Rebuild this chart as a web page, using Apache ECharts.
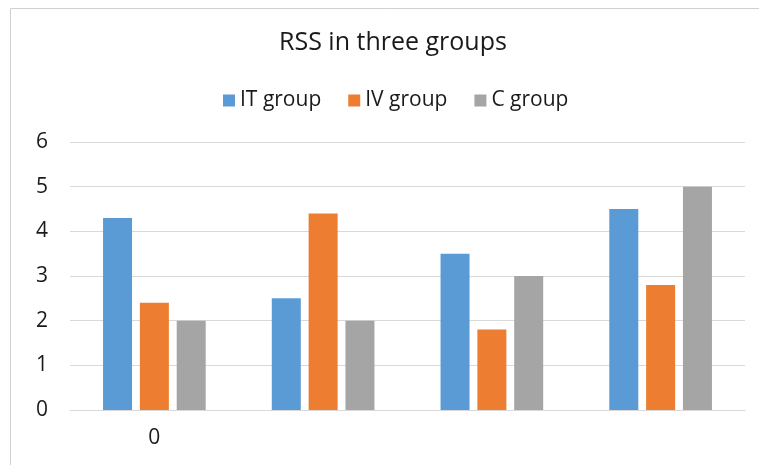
<!DOCTYPE html>
<html><head><meta charset="utf-8">
<script src="https://cdn.jsdelivr.net/npm/echarts@6/dist/echarts.min.js"></script>
<style>html,body{margin:0;padding:0;background:#fff}#c{width:759px;height:465px}</style>
</head><body><div id="c"></div>
<script>
const categories = ['0', '', '', ''];
const itGroup = [4.3, 2.5, 3.5, 4.5];
const ivGroup = [2.4, 4.4, 1.8, 2.8];
const cGroup = [2.0, 2.0, 3.0, 5.0];
const yTicks = {min: 0, max: 6, interval: 1};

const font = '"Open Sans", "Liberation Sans", sans-serif';
const chart = echarts.init(document.getElementById('c'));
chart.setOption({
  animation: false,
  backgroundColor: '#fff',
  graphic: [{type: 'rect', shape: {x: 10.5, y: 8.5, width: 800, height: 500}, style: {fill: 'none', stroke: '#d0d0d0', lineWidth: 1}, silent: true}],
  title: {text: 'RSS in three groups', left: 274, top: 25, textStyle: {fontFamily: font, fontSize: 25, fontWeight: 'normal', color: '#1a1a1a'}},
  legend: {top: 85, left: 218, itemWidth: 12, itemHeight: 12, itemGap: 27, icon: 'rect',
    textStyle: {fontFamily: font, fontSize: 21, color: '#1a1a1a'},
    data: ['IT group', 'IV group', 'C group']},
  grid: {left: 70, right: 14, top: 142, bottom: 55, containLabel: false},
  xAxis: {type: 'category', data: categories,
    axisLine: {lineStyle: {color: '#d9d9d9', width: 1}}, axisTick: {show: false},
    axisLabel: {fontFamily: font, fontSize: 21, color: '#1a1a1a', margin: 18}},
  yAxis: {type: 'value', min: yTicks.min, max: yTicks.max, interval: yTicks.interval,
    axisLine: {show: false}, axisTick: {show: false},
    splitLine: {lineStyle: {color: '#d9d9d9', width: 1}},
    axisLabel: {fontFamily: font, fontSize: 21, color: '#1a1a1a', margin: 22}},
  series: [
    {name: 'IT group', type: 'bar', data: itGroup, barWidth: 29, barGap: '27%', itemStyle: {color: '#5b9bd5'}},
    {name: 'IV group', type: 'bar', data: ivGroup, barWidth: 29, barGap: '27%', itemStyle: {color: '#ed7d31'}},
    {name: 'C group', type: 'bar', data: cGroup, barWidth: 29, barGap: '27%', itemStyle: {color: '#a5a5a5'}}
  ]
});
</script></body></html>
